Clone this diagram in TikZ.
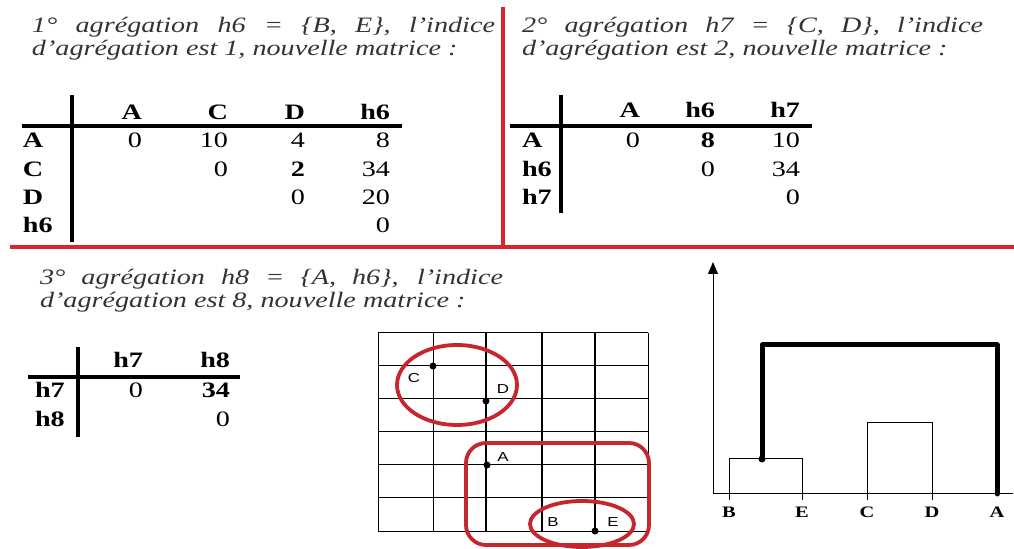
\documentclass[tikz,border=0pt]{standalone}
\usepackage{fontspec}
\setmainfont{Liberation Serif}[FakeStretch=1.28]
\newfontfamily\gridfont{Liberation Sans}[FakeStretch=1.3]
\usetikzlibrary{arrows.meta}
\definecolor{ink}{HTML}{333333}
\definecolor{panelred}{HTML}{D9232D}
\definecolor{ringred}{HTML}{C8262F}

\begin{document}
\begin{tikzpicture}[x=0.5pt, y=-0.5pt,
  every node/.style={inner sep=0pt, outer sep=0pt},
  para/.style={anchor=base west, font=\fontsize{11}{13}\selectfont\itshape, text=ink},
  hdr/.style={anchor=base east, font=\fontsize{11}{13}\selectfont\bfseries},
  rowlbl/.style={anchor=base west, font=\fontsize{11}{13}\selectfont\bfseries},
  val/.style={anchor=base east, font=\fontsize{11}{13}\selectfont},
  valb/.style={anchor=base east, font=\fontsize{11}{13}\selectfont\bfseries},
  rule/.style={line width=2.2pt},
  sep/.style={draw=panelred, line width=2pt},
  ring/.style={draw=ringred, line width=1.9pt},
  gridln/.style={line width=0.5pt},
  gridax/.style={line width=1pt},
  pt/.style={circle, fill, inner sep=0pt, minimum size=3.5pt},
  ptlbl/.style={font=\gridfont\fontsize{6.5}{7}\selectfont},
  leaf/.style={anchor=base, font=\fontsize{8}{9}\selectfont\bfseries},
  thin/.style={line width=0.5pt},
  merge/.style={line width=2.5pt, line cap=round, line join=round}
]
  \fill[white] (0,0) rectangle (1014,549);
  \useasboundingbox (0,0) rectangle (1014,549);

  % panel separators
  \draw[sep] (503,7) -- (503,247);
  \draw[sep] (10,247) -- (1014,247);

  % 1st aggregation
  \node[para] (txt1a) at (32,33) {\makebox[231.5pt][s]{1° agrégation h6 = \{B, E\}, l’indice}};
  \node[para] (txt1b) at (32,56) {d’agrégation est 1, nouvelle matrice :};

  \node[hdr] (t1cA) at (142,120) {A};
  \node[hdr] (t1cC) at (228,120) {C};
  \node[hdr] (t1cD) at (305,120) {D};
  \node[hdr] (t1ch6) at (390,120) {h6};
  \node[rowlbl] (t1rA) at (23,148) {A};
  \node[rowlbl] (t1rC) at (23,177) {C};
  \node[rowlbl] (t1rD) at (23,205) {D};
  \node[rowlbl] (t1rh6) at (23,233) {h6};
  \node[val] (t1AA) at (142,148) {0};
  \node[val] (t1AC) at (228,148) {10};
  \node[val] (t1AD) at (305,148) {4};
  \node[val] (t1Ah6) at (390,148) {8};
  \node[val] (t1CC) at (228,177) {0};
  \node[valb] (t1CD) at (305,177) {2};
  \node[val] (t1Ch6) at (390,177) {34};
  \node[val] (t1DD) at (305,205) {0};
  \node[val] (t1Dh6) at (390,205) {20};
  \node[val] (t1h6h6) at (390,233) {0};
  \draw[rule] (22,126) -- (402,126);
  \draw[rule] (72,95) -- (72,242);

  % 2nd aggregation
  \node[para] (txt2a) at (522,33) {\makebox[230.5pt][s]{2° agrégation h7 = \{C, D\}, l’indice}};
  \node[para] (txt2b) at (522,56) {d’agrégation est 2, nouvelle matrice :};

  \node[hdr] (t2cA) at (640,118) {A};
  \node[hdr] (t2ch6) at (715,118) {h6};
  \node[hdr] (t2ch7) at (800,118) {h7};
  \node[rowlbl] (t2rA) at (522,148) {A};
  \node[rowlbl] (t2rh6) at (522,177) {h6};
  \node[rowlbl] (t2rh7) at (522,205) {h7};
  \node[val] (t2AA) at (640,148) {0};
  \node[valb] (t2Ah6) at (715,148) {8};
  \node[val] (t2Ah7) at (800,148) {10};
  \node[val] (t2h6h6) at (715,177) {0};
  \node[val] (t2h6h7) at (800,177) {34};
  \node[val] (t2h7h7) at (800,205) {0};
  \draw[rule] (510,126) -- (812,126);
  \draw[rule] (561,95) -- (561,213);

  % 3rd aggregation
  \node[para] (txt3a) at (40,285) {\makebox[231.5pt][s]{3° agrégation h8 = \{A, h6\}, l’indice}};
  \node[para] (txt3b) at (40,308) {d’agrégation est 8, nouvelle matrice :};

  \node[hdr] (t3ch7) at (143,368) {h7};
  \node[hdr] (t3ch8) at (230,368) {h8};
  \node[rowlbl] (t3rh7) at (35,398) {h7};
  \node[rowlbl] (t3rh8) at (35,427) {h8};
  \node[val] (t3h7h7) at (143,398) {0};
  \node[valb] (t3h7h8) at (230,398) {34};
  \node[val] (t3h8h8) at (230,427) {0};
  \draw[rule] (28,377) -- (240,377);
  \draw[rule] (78,347) -- (78,437);

  % point grid
  \foreach \x in {378,433,648}
    \draw[gridln] (\x,333) -- (\x,532);
  \foreach \x in {486,542,595}
    \draw[gridax] (\x,333) -- (\x,532);
  \foreach \y in {333,366,399,432,465,498,532}
    \draw[gridln] (378,\y) -- (648,\y);

  \node[pt] (pC) at (433,366) {};
  \node[pt] (pD) at (486,401) {};
  \node[pt] (pA) at (487,465) {};
  \node[pt] (pE) at (595,531) {};
  \node[ptlbl] (lC) at (414,378) {C};
  \node[ptlbl] (lD) at (503,389) {D};
  \node[ptlbl] (lA) at (503,457) {A};
  \node[ptlbl] (lB) at (553,522) {B};
  \node[ptlbl] (lE) at (613,522) {E};

  \draw[ring] (457,385) ellipse [x radius=60, y radius=40];
  \draw[ring, rounded corners=10pt] (466,443) rectangle (649,545);
  \draw[ring] (582,524) ellipse [x radius=52, y radius=23];

  % dendrogram
  \coordinate (orig) at (713,494);
  \coordinate (ytop) at (713,262);
  \coordinate (xend) at (1013,494);
  \draw[thin, -{Triangle[length=6pt, width=5pt]}] (orig) -- (ytop);
  \draw[thin] (orig) -- (xend);

  \node[leaf] (lfB) at (729,518) {B};
  \node[leaf] (lfE) at (802,518) {E};
  \node[leaf] (lfC) at (867,518) {C};
  \node[leaf] (lfD) at (932,518) {D};
  \node[leaf] (lfA) at (997,518) {A};

  \draw[thin] (729,500) -- (729,459) -- (802,459) -- (802,500);
  \draw[thin] (867,500) -- (867,423) -- (932,423) -- (932,500);
  \draw[merge] (762,459) -- (762,345) -- (997,345) -- (997,494);
  \node[pt] (jBE) at (762,459) {};
\end{tikzpicture}
\end{document}
